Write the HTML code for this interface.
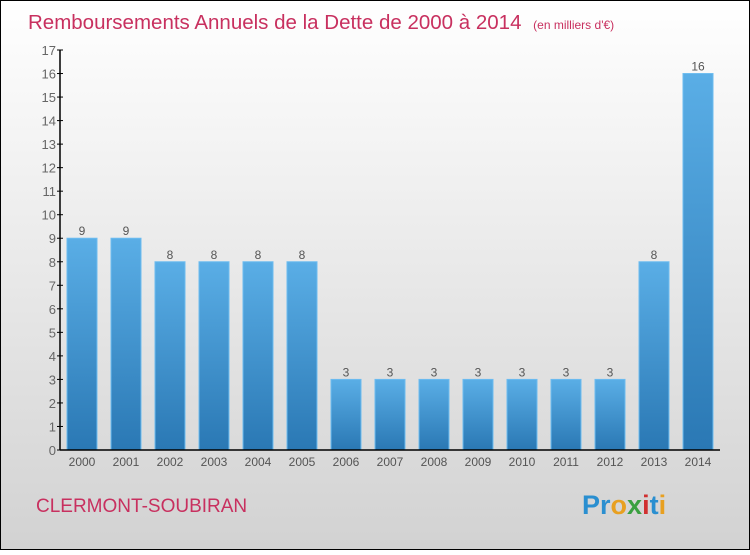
<!DOCTYPE html>
<html><head><meta charset="utf-8"><style>
body{margin:0;}
svg text{font-family:"Liberation Sans",sans-serif;}
</style></head><body>
<svg width="750" height="550" xmlns="http://www.w3.org/2000/svg">
<defs>
<linearGradient id="bg" x1="0" y1="0" x2="0" y2="1"><stop offset="0" stop-color="#ffffff"/><stop offset="1" stop-color="#d2d2d2"/></linearGradient>
<linearGradient id="bar" x1="0" y1="0" x2="0" y2="1"><stop offset="0" stop-color="#5aaee6"/><stop offset="1" stop-color="#2a78b4"/></linearGradient>
</defs>
<rect x="0.5" y="0.5" width="749" height="549" fill="url(#bg)" stroke="#000"/>
<text x="28" y="29" font-size="20.5" fill="#c8305f">Remboursements Annuels de la Dette de 2000 à 2014 <tspan font-size="12" dx="6">(en milliers d'€)</tspan></text>
<text x="36" y="512" font-size="19" fill="#c8305f">CLERMONT-SOUBIRAN</text>
<text x="582" y="514" font-size="27" font-weight="bold"><tspan fill="#2a8fd0">Pr</tspan><tspan fill="#e8a020">o</tspan><tspan fill="#3aa040">x</tspan><tspan fill="#d03030">i</tspan><tspan fill="#2a8fd0">t</tspan><tspan fill="#e8a020">i</tspan></text>
<g id="plot"></g>
</svg>
<script>
const years=["2000","2001","2002","2003","2004","2005","2006","2007","2008","2009","2010","2011","2012","2013","2014"];
const values=[9,9,8,8,8,8,3,3,3,3,3,3,3,8,16];
const yTicks=[0,1,2,3,4,5,6,7,8,9,10,11,12,13,14,15,16,17];
const NS="http://www.w3.org/2000/svg";
const g=document.getElementById('plot');
const y=v=>450-v*400/17;
const x=i=>82+44*i;
function mk(t,a){const e=document.createElementNS(NS,t);for(const k in a)e.setAttribute(k,a[k]);g.appendChild(e);return e;}
yTicks.forEach(t=>{
 const l=mk('line',{x1:57,x2:63,y1:y(t),y2:y(t),stroke:'#000'});
 
 
 const tx=mk('text',{x:56,y:y(t)+5,'font-size':13,'text-anchor':'end',fill:'#666'});
 tx.textContent=t;
 
 
});
values.forEach((v,i)=>{
 const r=mk('rect',{x:x(i)-15,y:y(v),width:30,height:450-y(v),fill:'url(#bar)',stroke:'#6cbcf0','stroke-width':1});
 
 
 const vl=mk('text',{x:x(i),y:y(v)-3,'font-size':12,'text-anchor':'middle',fill:'#555'});
 vl.textContent=v;
 
 
 const xl=mk('text',{x:x(i),y:466,'font-size':12,'text-anchor':'middle',fill:'#555'});
 xl.textContent=years[i];
 
 
});
const ya=mk('line',{x1:60,x2:60,y1:50,y2:450,stroke:'#000','stroke-width':1.5});


const xa=mk('line',{x1:60,x2:720,y1:450,y2:450,stroke:'#000','stroke-width':1.5});


</script>
</body></html>
